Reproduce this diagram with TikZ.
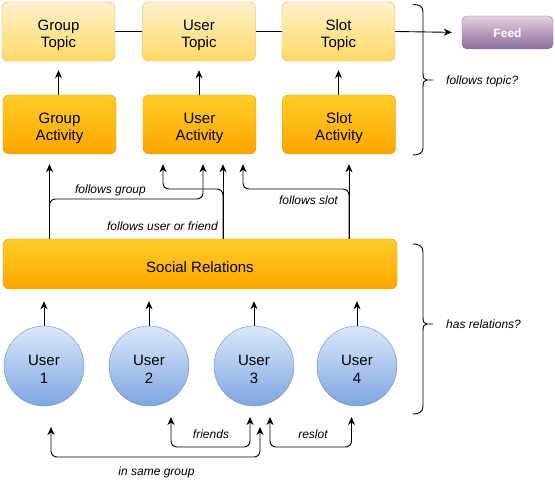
\documentclass[tikz,border=0pt]{standalone}
\usepackage{fontspec}
\setmainfont{Liberation Sans}
\usetikzlibrary{arrows.meta,calc}
\definecolor{topicTop}{HTML}{FFF2CC}
\definecolor{topicBot}{HTML}{FFD966}
\definecolor{topicLine}{HTML}{D6B656}
\definecolor{actTop}{HTML}{FFCD28}
\definecolor{actBot}{HTML}{FFA500}
\definecolor{actLine}{HTML}{D79B00}
\definecolor{feedTop}{HTML}{E6D0DE}
\definecolor{feedBot}{HTML}{8C6C9C}
\definecolor{feedLine}{HTML}{9673A6}
\definecolor{userTop}{HTML}{DAE8FC}
\definecolor{userBot}{HTML}{7EA6E0}
\definecolor{userLine}{HTML}{6C8EBF}
\tikzset{
  box/.style={rounded corners=6pt, minimum width=113pt, minimum height=59pt, inner sep=0pt,
    align=center, font=\fontsize{15}{17.5}\selectfont, text height=35pt, text depth=2pt},
  topicbox/.style={box, draw=topicLine, top color=topicTop, bottom color=topicBot},
  actbox/.style={box, draw=actLine, top color=actTop, bottom color=actBot},
  onebox/.style={text height=19pt, text depth=2pt},
  feedbox/.style={rounded corners=5pt, minimum width=91pt, minimum height=33pt, inner sep=0pt,
    draw=feedLine, top color=feedTop, bottom color=feedBot, text=white,
    font=\fontsize{12}{14}\selectfont\bfseries, text height=10.4pt, text depth=0pt},
  userbox/.style={circle, minimum size=80pt, inner sep=0pt, draw=userLine,
    top color=userTop, bottom color=userBot, align=center, font=\fontsize{15}{17.5}\selectfont,
    text height=35pt, text depth=0pt},
  lbl/.style={font=\fontsize{12}{14}\selectfont\itshape, inner sep=0pt, text height=9pt, text depth=3pt},
  conn/.style={line width=0.9pt, rounded corners=6pt},
  arr/.style={conn, -{Stealth[length=8pt,width=7pt,inset=2.5pt]}},
  darr/.style={conn, {Stealth[length=8pt,width=7pt,inset=2.5pt]}-{Stealth[length=8pt,width=7pt,inset=2.5pt]}},
  brace/.style={line width=0.9pt}
}
\begin{document}
\begin{tikzpicture}[x=1pt,y=-1pt]
\useasboundingbox (0,0) rectangle (555,486);
% topics
\node[topicbox] (gt) at (58.5,31.5) {Group\\Topic};
\node[topicbox] (ut) at (199,31.5) {User\\Topic};
\node[topicbox] (st) at (338.5,31.5) {Slot\\Topic};
\node[feedbox] (feed) at (507.5,32.5) {Feed};
% activities
\node[actbox] (ga) at (59.5,124.5) {Group\\Activity};
\node[actbox] (ua) at (199.5,124.5) {User\\Activity};
\node[actbox] (sa) at (339,124.5) {Slot\\Activity};
% social relations
\node[actbox, onebox, minimum width=394pt, minimum height=50pt] (sr) at (200,264) {Social Relations};
% users
\node[userbox] (u1) at (44,366) {User\\1};
\node[userbox] (u2) at (149,366) {User\\2};
\node[userbox] (u3) at (254,366) {User\\3};
\node[userbox] (u4) at (357,366) {User\\4};
% helper columns
\coordinate (v1) at (49.5,0);
\coordinate (v2) at (163,0);
\coordinate (v3) at (203,0);
\coordinate (v4) at (223,0);
\coordinate (v5) at (243,0);
\coordinate (v6) at (349,0);
% topic row connectors
\draw[conn] (gt.east) -- (ut.west);
\draw[conn] (ut.east) -- (st.west);
\draw[arr, shorten >=10pt] (st.east) -- (feed.west);
% activity -> topic
\draw[arr, shorten >=9pt] (ga.north -| gt.south) -- (gt.south);
\draw[arr, shorten >=9pt] (ua.north -| ut.south) -- (ut.south);
\draw[arr, shorten >=9pt] (sa.north -| st.south) -- (st.south);
% social relations -> activities
\draw[arr, shorten >=10pt] (sr.north -| v1) -- (ga.south -| v1);
\draw[arr, shorten >=10pt] (sr.north -| v1) -- (49.5,199) -- (203,199) -- (ua.south -| v3);
\draw[arr, shorten >=10pt] (sr.north -| v4) -- (ua.south -| v4);
\draw[arr, shorten >=10pt] (sr.north -| v4) -- (223,189) -- (163,189) -- (ua.south -| v2);
\draw[arr, shorten >=10pt] (sr.north -| v6) -- (sa.south -| v6);
\draw[arr, shorten >=10pt] (sr.north -| v6) -- (349,189) -- (243,189) -- (ua.south -| v5);
\node[lbl] (lg) at (110.5,190.5) {follows group};
\node[lbl] (lu) at (162.5,227.5) {follows user or friend};
\node[lbl] (ls) at (308.5,201.5) {follows slot};
% users -> social relations
\draw[arr, shorten >=12pt] (u1.north) -- (sr.south -| u1.north);
\draw[arr, shorten >=12pt] (u2.north) -- (sr.south -| u2.north);
\draw[arr, shorten >=12pt] (u3.north) -- (sr.south -| u3.north);
\draw[arr, shorten >=12pt] (u4.north) -- (sr.south -| u4.north);
% relations between users
\coordinate (f1) at (171,417);
\coordinate (f2) at (250,417);
\coordinate (r1) at (270,417);
\coordinate (r2) at (351.5,417);
\coordinate (g1) at (51,427);
\coordinate (g2) at (260,427);
\draw[darr] (f1) -- (171,447) -- (250,447) -- (f2);
\draw[darr] (r1) -- (270,447) -- (351.5,447) -- (r2);
\draw[darr] (g1) -- (51,457) -- (260,457) -- (g2);
\node[lbl] (lf) at (211,435.5) {friends};
\node[lbl] (lr) at (313,435.5) {reslot};
\node[lbl] (lsg) at (156.5,472.5) {in same group};
% braces
\draw[brace] (413,4.5) .. controls (419,4.5) and (423,6) .. (423,12) -- (423,73)
  .. controls (423,78) and (424,80) .. (427,80) -- (433,80)
  (427,80) .. controls (424,80) and (423,82) .. (423,87) -- (423,148)
  .. controls (423,153) and (419,155) .. (413,155);
\node[lbl, anchor=west] (lt) at (446,81.5) {follows topic?};
\draw[brace] (413,244) .. controls (419,244) and (423,246) .. (423,252) -- (423,317)
  .. controls (423,322) and (424,324) .. (427,324) -- (433,324)
  (427,324) .. controls (424,324) and (423,326) .. (423,331) -- (423,406)
  .. controls (423,412) and (419,414) .. (413,414);
\node[lbl, anchor=west] (lh) at (446,325.5) {has relations?};
\end{tikzpicture}
\end{document}
